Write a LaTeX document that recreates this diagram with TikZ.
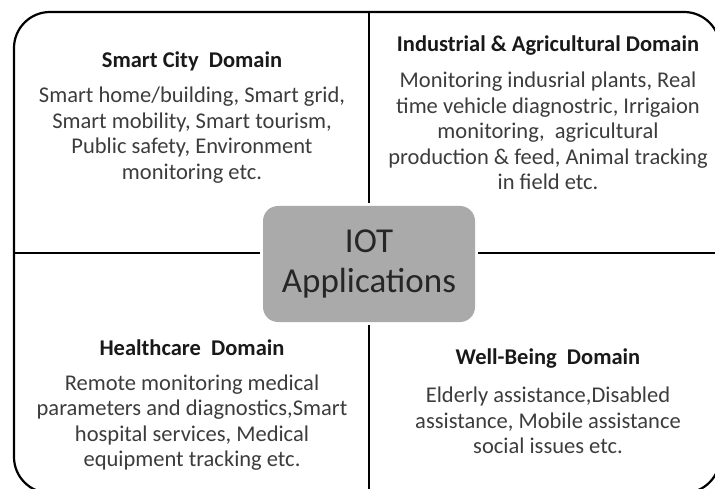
\documentclass[tikz,border=0pt]{standalone}
\usepackage{fontspec}
\setmainfont{Carlito}
\usetikzlibrary{positioning}
\definecolor{hubgray}{RGB}{170,170,170}
\definecolor{bodygray}{RGB}{60,60,60}

\begin{document}
\begin{tikzpicture}[x=1pt, y=-1pt,
        Title/.style = {font = \fontsize{22.5}{24}\selectfont\bfseries, text = black!90, inner sep = 0},
        % 
        Body/.style = {font = \fontsize{22.5}{25.5}\selectfont, text = bodygray, align = center, inner sep = 0},
        % 
        Hub/.style = {rectangle, rounded corners = 15, fill = hubgray, minimum width = 212, minimum height = 116, outer sep = 3, align = center, font = \fontsize{35}{40}\selectfont, text = black!85},
        % 
        Divider/.style = {line width = 2.2pt, black},
    ]
        \useasboundingbox (0,0) rectangle (715,489);
        \clip (0,0) rectangle (715,489);

        % Frame
        \draw[Divider, rounded corners = 36] (14,12) rectangle (720,493);

        % Hub
        \node[Hub] (Hub) at (369,264) {IOT\\Applications};

        % Ends of the dividers
        \coordinate (TopEnd) at (369,12);
        \coordinate (BottomEnd) at (369,489);
        \coordinate (LeftEnd) at (14,253);
        \coordinate (RightEnd) at (715,253);

        % Smart city
        \node[Title] (CityTitle) at (192,61) {Smart City\ \ Domain};
        \node[Body] (CityText) [below = 16pt of CityTitle] {Smart home/building, Smart grid,\\ Smart mobility, Smart tourism,\\ Public safety, Environment\\ monitoring etc.};

        % Industrial
        \node[Title] (IndusTitle) at (548,46) {Industrial \& Agricultural\ Domain};
        \node[Body] (IndusText) [below = 16pt of IndusTitle] {Monitoring indusrial plants, Real\\ time vehicle diagnostric, Irrigaion\\ monitoring,\ \ agricultural\\ production \& feed, Animal tracking\\ in field etc.};

        % Healthcare
        \node[Title] (HealthTitle) at (192,348) {Healthcare\ \ Domain};
        \node[Body] (HealthText) [below = 18pt of HealthTitle] {Remote monitoring medical\\ parameters and diagnostics,Smart\\ hospital services, Medical\\ equipment tracking etc.};

        % Well-being
        \node[Title] (WellTitle) at (548,359) {Well-Being\ \ Domain};
        \node[Body] (WellText) [below = 18pt of WellTitle] {Elderly assistance,Disabled\\ assistance, Mobile assistance\\ social issues etc.};

        % Dividers
        \draw[Divider] (TopEnd) -- (Hub.north);
        \draw[Divider] (Hub.south) -- (BottomEnd);
        \draw[Divider] (LeftEnd) -- (LeftEnd -| Hub.west);
        \draw[Divider] (LeftEnd -| Hub.east) -- (RightEnd);

    \end{tikzpicture}
\end{document}
